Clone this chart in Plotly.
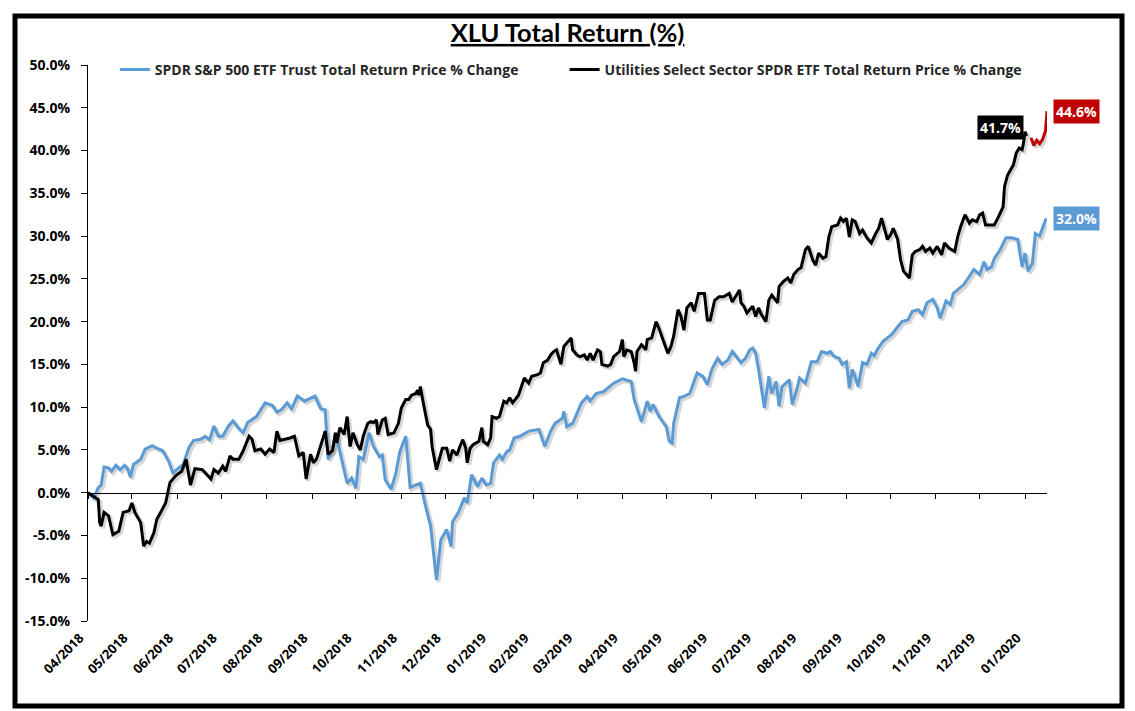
import pandas as pd
import plotly.graph_objects as go

# ---------------- data ----------------
spy_dates = [
    "2018-04-30", "2018-05-04", "2018-05-07", "2018-05-09", "2018-05-11", "2018-05-14", "2018-05-16",
    "2018-05-19", "2018-05-22", "2018-05-25", "2018-05-27", "2018-05-29", "2018-05-31", "2018-06-05",
    "2018-06-08", "2018-06-13", "2018-06-16", "2018-06-20", "2018-06-24", "2018-06-27", "2018-07-01",
    "2018-07-04", "2018-07-08", "2018-07-11", "2018-07-16", "2018-07-19", "2018-07-22", "2018-07-25",
    "2018-07-28", "2018-07-31", "2018-08-04", "2018-08-07", "2018-08-11", "2018-08-14", "2018-08-17",
    "2018-08-20", "2018-08-23", "2018-08-29", "2018-09-03", "2018-09-06", "2018-09-09", "2018-09-13",
    "2018-09-16", "2018-09-20", "2018-09-25", "2018-10-02", "2018-10-06", "2018-10-09", "2018-10-11",
    "2018-10-14", "2018-10-16", "2018-10-19", "2018-10-24", "2018-10-27", "2018-10-30", "2018-11-01",
    "2018-11-04", "2018-11-08", "2018-11-11", "2018-11-15", "2018-11-17", "2018-11-19", "2018-11-23",
    "2018-11-26", "2018-11-29", "2018-12-03", "2018-12-06", "2018-12-10", "2018-12-13", "2018-12-16",
    "2018-12-20", "2018-12-24", "2018-12-27", "2018-12-31", "2019-01-03", "2019-01-04", "2019-01-08",
    "2019-01-12", "2019-01-14", "2019-01-17", "2019-01-21", "2019-01-24", "2019-01-27", "2019-01-30",
    "2019-02-01", "2019-02-05", "2019-02-07", "2019-02-10", "2019-02-12", "2019-02-15", "2019-02-19",
    "2019-02-25", "2019-03-04", "2019-03-08", "2019-03-12", "2019-03-15", "2019-03-20", "2019-03-21",
    "2019-03-23", "2019-03-27", "2019-03-30", "2019-04-02", "2019-04-06", "2019-04-08", "2019-04-12",
    "2019-04-17", "2019-04-24", "2019-04-30", "2019-05-06", "2019-05-08", "2019-05-13", "2019-05-17",
    "2019-05-19", "2019-05-21", "2019-05-25", "2019-05-30", "2019-06-01", "2019-06-03", "2019-06-04",
    "2019-06-08", "2019-06-11", "2019-06-15", "2019-06-20", "2019-06-24", "2019-06-27", "2019-06-30",
    "2019-07-04", "2019-07-07", "2019-07-11", "2019-07-14", "2019-07-20", "2019-07-23", "2019-07-26",
    "2019-07-28", "2019-07-30", "2019-08-01", "2019-08-05", "2019-08-08", "2019-08-10", "2019-08-13",
    "2019-08-15", "2019-08-17", "2019-08-22", "2019-08-24", "2019-08-27", "2019-08-29", "2019-09-02",
    "2019-09-06", "2019-09-10", "2019-09-13", "2019-09-17", "2019-09-19", "2019-09-21", "2019-09-25",
    "2019-09-27", "2019-09-30", "2019-10-02", "2019-10-04", "2019-10-05", "2019-10-08", "2019-10-11",
    "2019-10-14", "2019-10-17", "2019-10-19", "2019-10-21", "2019-10-25", "2019-10-28", "2019-10-31",
    "2019-11-04", "2019-11-07", "2019-11-11", "2019-11-14", "2019-11-18", "2019-11-21", "2019-11-24",
    "2019-11-28", "2019-12-01", "2019-12-03", "2019-12-07", "2019-12-10", "2019-12-12", "2019-12-16",
    "2019-12-19", "2019-12-23", "2019-12-26", "2019-12-30", "2020-01-02", "2020-01-04", "2020-01-07",
    "2020-01-09", "2020-01-13", "2020-01-17", "2020-01-21", "2020-01-25", "2020-01-28", "2020-01-30",
    "2020-02-01", "2020-02-04", "2020-02-06", "2020-02-09", "2020-02-12", "2020-02-13", "2020-02-14",
]
spy_vals = [
    0.0, -0.6, 0.6, 0.9, 3.0, 2.9, 2.5,
    3.2, 2.7, 3.2, 2.8, 1.8, 3.3, 3.9,
    5.1, 5.5, 5.2, 4.9, 3.7, 2.3, 2.9,
    3.3, 5.3, 6.1, 6.25, 6.6, 6.2, 7.8,
    6.6, 6.6, 7.8, 8.4, 7.5, 7.0, 8.2,
    8.5, 8.9, 10.5, 10.2, 9.4, 9.7, 10.5,
    9.8, 11.3, 10.7, 11.3, 9.8, 9.7, 3.9,
    5.1, 7.0, 4.8, 1.1, 1.7, 0.5, 4.2,
    3.9, 7.0, 5.4, 4.2, 4.4, 1.5, 0.4,
    2.1, 4.8, 6.6, 0.6, 0.9, 1.1, -1.2,
    -3.9, -10.2, -5.5, -4.3, -6.3, -3.4, -2.3,
    -0.6, -1.2, 2.1, 0.7, 1.7, 0.9, 1.1,
    3.5, 4.4, 3.9, 4.8, 5.0, 6.4, 6.6,
    7.2, 7.4, 5.4, 7.2, 8.1, 8.7, 9.5,
    7.7, 8.1, 9.3, 10.5, 11.25, 10.7, 11.6,
    11.8, 12.8, 13.3, 13.0, 10.9, 8.3, 10.7,
    9.5, 10.3, 8.9, 7.7, 6.0, 5.8, 8.1,
    11.1, 11.25, 11.6, 14.0, 13.6, 12.6, 14.4,
    15.7, 15.0, 15.5, 16.5, 15.2, 15.7, 16.7,
    16.9, 16.3, 14.4, 9.9, 13.6, 11.6, 13.0,
    10.1, 12.4, 13.2, 10.3, 12.0, 13.4, 12.8,
    15.3, 15.3, 16.5, 16.3, 16.5, 16.0, 15.7,
    15.0, 15.3, 12.2, 14.4, 14.0, 12.4, 15.2,
    15.0, 16.3, 16.0, 16.7, 17.7, 18.1, 18.5,
    19.4, 20.0, 20.2, 21.2, 21.4, 20.8, 22.2,
    22.6, 21.6, 20.4, 22.4, 22.0, 23.3, 23.9,
    24.3, 25.3, 26.1, 25.5, 27.0, 26.1, 26.4,
    27.4, 28.4, 29.8, 29.8, 29.6, 26.4, 28.0,
    25.9, 26.8, 30.3, 30.0, 31.3, 31.9, 32.0,
]

xlu_dates = [
    "2018-04-30", "2018-05-04", "2018-05-07", "2018-05-08", "2018-05-09", "2018-05-11", "2018-05-14",
    "2018-05-17", "2018-05-21", "2018-05-24", "2018-05-28", "2018-05-30", "2018-06-01", "2018-06-05",
    "2018-06-07", "2018-06-09", "2018-06-11", "2018-06-14", "2018-06-16", "2018-06-18", "2018-06-22",
    "2018-06-25", "2018-06-29", "2018-07-03", "2018-07-06", "2018-07-09", "2018-07-12", "2018-07-17",
    "2018-07-20", "2018-07-23", "2018-07-25", "2018-07-28", "2018-07-31", "2018-08-02", "2018-08-05",
    "2018-08-07", "2018-08-11", "2018-08-14", "2018-08-18", "2018-08-20", "2018-08-22", "2018-08-26",
    "2018-08-29", "2018-09-01", "2018-09-04", "2018-09-06", "2018-09-08", "2018-09-12", "2018-09-15",
    "2018-09-18", "2018-09-21", "2018-09-24", "2018-09-26", "2018-09-29", "2018-10-01", "2018-10-03",
    "2018-10-07", "2018-10-09", "2018-10-11", "2018-10-14", "2018-10-16", "2018-10-17", "2018-10-19",
    "2018-10-22", "2018-10-24", "2018-10-26", "2018-10-28", "2018-10-31", "2018-11-02", "2018-11-04",
    "2018-11-07", "2018-11-09", "2018-11-11", "2018-11-13", "2018-11-14", "2018-11-17", "2018-11-19",
    "2018-11-21", "2018-11-25", "2018-11-28", "2018-11-30", "2018-12-03", "2018-12-05", "2018-12-07",
    "2018-12-10", "2018-12-11", "2018-12-12", "2018-12-13", "2018-12-15", "2018-12-18", "2018-12-20",
    "2018-12-21", "2018-12-24", "2018-12-27", "2018-12-28", "2018-12-31", "2019-01-02", "2019-01-04",
    "2019-01-07", "2019-01-09", "2019-01-11", "2019-01-13", "2019-01-14", "2019-01-16", "2019-01-18",
    "2019-01-22", "2019-01-24", "2019-01-25", "2019-01-28", "2019-01-30", "2019-01-31", "2019-02-03",
    "2019-02-05", "2019-02-08", "2019-02-10", "2019-02-12", "2019-02-14", "2019-02-18", "2019-02-20",
    "2019-02-22", "2019-02-25", "2019-02-27", "2019-03-03", "2019-03-05", "2019-03-07", "2019-03-10",
    "2019-03-12", "2019-03-14", "2019-03-16", "2019-03-19", "2019-03-21", "2019-03-23", "2019-03-26",
    "2019-03-27", "2019-03-30", "2019-04-01", "2019-04-04", "2019-04-06", "2019-04-08", "2019-04-10",
    "2019-04-13", "2019-04-15", "2019-04-16", "2019-04-20", "2019-04-22", "2019-04-24", "2019-04-28",
    "2019-04-30", "2019-05-01", "2019-05-03", "2019-05-06", "2019-05-08", "2019-05-09", "2019-05-10",
    "2019-05-13", "2019-05-16", "2019-05-17", "2019-05-20", "2019-05-23", "2019-05-25", "2019-05-27",
    "2019-05-31", "2019-06-02", "2019-06-04", "2019-06-07", "2019-06-09", "2019-06-11", "2019-06-13",
    "2019-06-16", "2019-06-18", "2019-06-21", "2019-06-25", "2019-06-27", "2019-06-29", "2019-07-02",
    "2019-07-05", "2019-07-08", "2019-07-12", "2019-07-14", "2019-07-16", "2019-07-19", "2019-07-20",
    "2019-07-22", "2019-07-24", "2019-07-28", "2019-07-30", "2019-08-01", "2019-08-03", "2019-08-06",
    "2019-08-08", "2019-08-10", "2019-08-14", "2019-08-15", "2019-08-18", "2019-08-21", "2019-08-23",
    "2019-08-25", "2019-08-28", "2019-08-30", "2019-09-02", "2019-09-04", "2019-09-07", "2019-09-09",
    "2019-09-11", "2019-09-14", "2019-09-16", "2019-09-18", "2019-09-20", "2019-09-24", "2019-09-26",
    "2019-09-28", "2019-09-30", "2019-10-02", "2019-10-04", "2019-10-06", "2019-10-09", "2019-10-11",
    "2019-10-14", "2019-10-17", "2019-10-20", "2019-10-22", "2019-10-24", "2019-10-26", "2019-10-28",
    "2019-10-30", "2019-11-01", "2019-11-04", "2019-11-06", "2019-11-08", "2019-11-12", "2019-11-14",
    "2019-11-16", "2019-11-19", "2019-11-21", "2019-11-23", "2019-11-26", "2019-11-28", "2019-12-01",
    "2019-12-04", "2019-12-06", "2019-12-09", "2019-12-13", "2019-12-15", "2019-12-17", "2019-12-20",
    "2019-12-23", "2019-12-25", "2019-12-28", "2019-12-30", "2020-01-01", "2020-01-03", "2020-01-06",
    "2020-01-09", "2020-01-12", "2020-01-15", "2020-01-16", "2020-01-18", "2020-01-22", "2020-01-24",
    "2020-01-26", "2020-01-28", "2020-01-29", "2020-01-30", "2020-01-31",
]
xlu_vals = [
    0.0, -0.4, -0.8, -3.5, -3.9, -2.3, -2.7,
    -4.9, -4.5, -2.3, -2.1, -1.2, -2.3, -3.5,
    -6.25, -5.7, -5.9, -4.7, -3.1, -2.5, -1.2,
    1.2, 2.0, 2.5, 3.9, 0.9, 2.8, 2.7,
    2.1, 1.6, 2.7, 2.3, 3.1, 2.5, 4.3,
    3.9, 3.9, 4.9, 6.6, 6.25, 4.9, 5.1,
    4.5, 5.1, 4.7, 7.2, 6.1, 6.25, 6.4,
    6.6, 4.3, 4.7, 1.6, 4.5, 3.5, 3.9,
    6.25, 7.2, 4.5, 4.9, 7.0, 5.8, 7.6,
    6.8, 8.9, 5.4, 7.0, 5.6, 5.0, 6.6,
    8.1, 8.3, 8.2, 8.5, 6.8, 8.5, 8.7,
    6.8, 7.0, 8.1, 9.9, 10.9, 10.9, 11.4,
    11.6, 12.0, 11.4, 12.4, 10.5, 7.9, 7.4,
    5.4, 2.7, 4.6, 5.2, 5.2, 3.7, 5.0,
    4.4, 5.4, 6.2, 5.2, 3.5, 5.2, 5.6,
    6.0, 7.6, 6.0, 5.6, 6.4, 8.9, 8.7,
    8.9, 10.7, 10.5, 11.1, 10.5, 11.4, 12.4,
    13.4, 12.8, 13.6, 13.8, 14.0, 15.2, 15.5,
    16.1, 16.5, 16.7, 15.0, 17.1, 17.5, 18.1,
    16.7, 16.1, 15.9, 16.1, 15.5, 16.3, 15.5,
    16.7, 16.5, 15.0, 14.8, 15.0, 15.9, 16.5,
    17.9, 15.9, 16.7, 16.5, 15.2, 14.2, 16.5,
    17.3, 16.7, 17.9, 18.1, 20.0, 19.2, 18.3,
    16.3, 17.0, 18.3, 21.4, 20.6, 19.0, 21.6,
    22.2, 21.2, 23.3, 23.3, 20.2, 20.2, 22.5,
    22.9, 22.9, 23.3, 22.3, 22.9, 23.7, 22.2,
    21.8, 21.0, 21.8, 20.6, 21.6, 20.8, 20.0,
    22.5, 23.1, 22.2, 24.1, 24.7, 25.1, 24.5,
    25.5, 26.1, 26.3, 28.4, 28.8, 27.2, 26.6,
    28.0, 27.4, 27.6, 29.9, 31.1, 31.3, 32.1,
    31.7, 32.1, 29.9, 31.9, 31.7, 30.3, 30.7,
    29.8, 29.2, 30.3, 30.9, 32.1, 30.9, 29.6,
    30.1, 30.9, 29.6, 27.2, 25.9, 25.1, 27.8,
    28.2, 28.4, 28.8, 28.2, 28.6, 28.0, 28.8,
    27.8, 29.2, 28.6, 28.2, 29.9, 31.1, 32.5,
    31.5, 31.9, 31.7, 32.5, 32.7, 31.3, 31.3,
    31.3, 32.3, 33.4, 35.8, 37.1, 38.3, 39.7,
    40.3, 40.1, 40.9, 42.2, 41.7,
]

xlu_feb_dates = ["2020-02-03", "2020-02-05", "2020-02-07", "2020-02-09", "2020-02-11", "2020-02-13", "2020-02-14"]
xlu_feb_vals = [41.5, 40.6, 41.2, 40.8, 41.3, 42.3, 44.6]

tick_dates = [
    "2018-04-30", "2018-05-30", "2018-06-30", "2018-07-30", "2018-08-30", "2018-09-30",
    "2018-10-30", "2018-11-30", "2018-12-30", "2019-01-30", "2019-02-28", "2019-03-30",
    "2019-04-30", "2019-05-30", "2019-06-30", "2019-07-30", "2019-08-30", "2019-09-30",
    "2019-10-30", "2019-11-30", "2019-12-30", "2020-01-30",
]
tick_labels = [
    "04/2018", "05/2018", "06/2018", "07/2018", "08/2018", "09/2018",
    "10/2018", "11/2018", "12/2018", "01/2019", "02/2019", "03/2019",
    "04/2019", "05/2019", "06/2019", "07/2019", "08/2019", "09/2019",
    "10/2019", "11/2019", "12/2019", "01/2020",
]
y_ticks = [-15, -10, -5, 0, 5, 10, 15, 20, 25, 30, 35, 40, 45, 50]

spy_name = "SPDR S&P 500 ETF Trust Total Return Price % Change"
xlu_name = "Utilities Select Sector SPDR ETF Total Return Price % Change"

BLUE = "#5B9BD5"
BLACK = "#000000"
RED = "#C00000"
SHADOW = "rgba(0,0,0,0.16)"
FONT = "Open Sans"

x_range = [spy_dates[0], spy_dates[-1]]
y_range = [y_ticks[0], y_ticks[-1]]

# plot area size in px (used only to offset the soft drop shadow by ~2px)
PLOT_W, PLOT_H = 959, 556
SHADOW_PX = 2
x0, x1 = pd.Timestamp(x_range[0]), pd.Timestamp(x_range[1])
dx = (x1 - x0) * (SHADOW_PX / PLOT_W)
dy = (y_range[1] - y_range[0]) * SHADOW_PX / PLOT_H
shadow_x_range = [x0 - dx, x1 - dx]
shadow_y_range = [y_range[0] + dy, y_range[1] + dy]

fig = go.Figure()
# drop shadows (base subplot x/y, slightly offset ranges)
for xs, ys in ((spy_dates, spy_vals), (xlu_dates, xlu_vals), (xlu_feb_dates, xlu_feb_vals)):
    fig.add_trace(go.Scatter(x=xs, y=ys, mode="lines", showlegend=False,
                             line=dict(color=SHADOW, width=4), xaxis="x", yaxis="y",
                             hoverinfo="skip"))

fig.add_trace(go.Scatter(
    x=spy_dates, y=spy_vals, mode="lines", name=spy_name,
    line=dict(color=BLUE, width=3), legend="legend",
    xaxis="x2", yaxis="y2", hoverinfo="skip",
))
fig.add_trace(go.Scatter(
    x=xlu_dates, y=xlu_vals, mode="lines", name=xlu_name,
    line=dict(color=BLACK, width=3), legend="legend2",
    xaxis="x3", yaxis="y2", hoverinfo="skip",
))
fig.add_trace(go.Scatter(
    x=xlu_feb_dates, y=xlu_feb_vals, mode="lines", name="XLU Feb",
    line=dict(color=RED, width=3), showlegend=False,
    xaxis="x3", yaxis="y2", hoverinfo="skip",
))

label_font = dict(family=FONT, size=14, color="white", weight="bold")
fig.add_annotation(x=xlu_dates[-1], y=xlu_vals[-1], xref="x2", yref="y2",
                   text=f"{xlu_vals[-1]:.1f}%", showarrow=False,
                   xanchor="right", yanchor="middle", xshift=-3, yshift=9,
                   bgcolor=BLACK, font=label_font, borderpad=2)
fig.add_annotation(x=xlu_feb_dates[-1], y=xlu_feb_vals[-1], xref="x2", yref="y2",
                   text=f"{xlu_feb_vals[-1]:.1f}%", showarrow=False,
                   xanchor="left", yanchor="middle", xshift=6, yshift=0,
                   bgcolor=RED, font=label_font, borderpad=2)
fig.add_annotation(x=spy_dates[-1], y=spy_vals[-1], xref="x2", yref="y2",
                   text=f"{spy_vals[-1]:.1f}%", showarrow=False,
                   xanchor="left", yanchor="middle", xshift=6, yshift=0,
                   bgcolor=BLUE, font=label_font, borderpad=2)

# outer frame (paper coordinates relative to the plot area)
fig.add_shape(type="rect", xref="paper", yref="paper",
              x0=-0.0761, x1=1.0782, y0=-0.1529, y1=1.0881,
              line=dict(color="black", width=5), fillcolor="rgba(0,0,0,0)", layer="below")

zero_pos = (0 - y_range[0]) / (y_range[1] - y_range[0])

tickfont = dict(family=FONT, size=14, color="#000000", weight="bold")
xtickfont = dict(family=FONT, size=13, color="#000000", weight="bold")
legfont = dict(family=FONT, size=14, color="#262626", weight="bold")

hidden = dict(showline=False, ticks="", showticklabels=False, showgrid=False, zeroline=False)

# the page body has an 8px margin, so the figure is sized/offset to keep the
# plot area at the same place as in the 1135x711 reference
fig.update_layout(
    width=1127, height=703,
    margin=dict(l=80, r=88, t=57, b=90),
    paper_bgcolor="white", plot_bgcolor="white",
    title=dict(text="<u>XLU Total Return (%)</u>", x=0.5, xref="paper", xanchor="center",
               y=1 - 25 / 703, yref="container", yanchor="middle",
               font=dict(family="Lato", size=25.5, color="black", weight="bold")),
    xaxis=dict(type="date", range=shadow_x_range, **hidden),
    yaxis=dict(range=shadow_y_range, **hidden),
    xaxis2=dict(type="date", range=x_range, overlaying="x", anchor="y2",
                tickvals=tick_dates, ticktext=tick_labels,
                tickangle=-45, showline=False, ticks="", showgrid=False, zeroline=False,
                tickfont=xtickfont, ticklabelstandoff=6, ticklabelshift=-8),
    xaxis3=dict(type="date", range=x_range, overlaying="x", anchor="free", position=zero_pos,
                tickvals=tick_dates, showticklabels=False, showline=True, linecolor="black",
                linewidth=1, ticks="outside", ticklen=5, tickcolor="black", showgrid=False,
                zeroline=False),
    yaxis2=dict(range=y_range, overlaying="y", anchor="x2", side="left",
                tickvals=y_ticks, ticktext=[f"{v:.1f}%" for v in y_ticks],
                showline=True, linecolor="black", linewidth=1, ticks="outside", ticklen=6,
                tickcolor="black", showgrid=False, zeroline=False, tickfont=tickfont,
                ticklabelstandoff=8),
    legend=dict(orientation="h", x=0.028, xanchor="left", y=0.991, yanchor="middle",
                bgcolor="rgba(0,0,0,0)", font=legfont),
    legend2=dict(orientation="h", x=0.497, xanchor="left", y=0.991, yanchor="middle",
                 bgcolor="rgba(0,0,0,0)", font=legfont),
    showlegend=True,
)

fig.write_html("out.html")
